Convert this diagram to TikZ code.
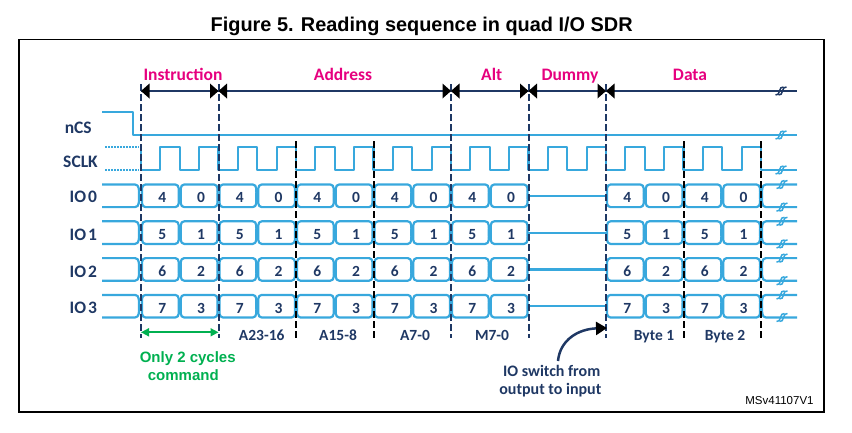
\documentclass[tikz,border=0pt]{standalone}
\usepackage{fontspec}
\setmainfont{Carlito}
\newfontfamily\arialfont{Liberation Sans}
\usetikzlibrary{arrows.meta}
\definecolor{sig}{RGB}{56,168,221}
\definecolor{navy}{RGB}{31,56,100}
\definecolor{mag}{RGB}{230,0,126}
\definecolor{grn}{RGB}{0,176,80}
\newcommand\brkmark[3]{%
  \draw[#3,line width=1.5pt] (#1-5.5,#2+4) .. controls (#1-0.5,#2+5.5) and (#1-2.5,#2-5.5) .. (#1+2.5,#2-4);
  \draw[#3,line width=1.5pt] (#1-2.5,#2+4) .. controls (#1+2.5,#2+5.5) and (#1+0.5,#2-5.5) .. (#1+5.5,#2-4);}
\begin{document}
\begin{tikzpicture}[x=1pt,y=-1pt,
  sigl/.style={sig,line width=2.2pt,line join=round},
  digit/.style={anchor=base,navy,font=\bfseries\fontsize{15.5}{17}\selectfont,inner sep=0pt},
  phase/.style={anchor=base,mag,font=\bfseries\fontsize{17.5}{20}\selectfont,inner sep=0pt},
  siglabel/.style={anchor=base,navy,font=\bfseries\fontsize{17.5}{20}\selectfont,inner sep=0pt},
  bytelabel/.style={anchor=base,navy,font=\bfseries\fontsize{15.5}{18}\selectfont,inner sep=0pt},
  navydash/.style={navy,line width=2pt,dash pattern=on 7pt off 3pt},
  blackdash/.style={black,line width=2pt,dash pattern=on 7pt off 3pt},
  tri/.style={fill=black}]
\useasboundingbox (0,0) rectangle (852,432);

% title and frame
\node[anchor=base,inner sep=0pt,font=\arialfont\bfseries\fontsize{19.9}{23}\selectfont] (title) at (421.7,31.5) {Figure 5. Reading sequence in quad I/O SDR};
\draw[line width=1.3pt] (19,39.5) rectangle (824,412);

% phase labels
\node[phase] (pInstr) at (183,80.5) {Instruction};
\node[phase] (pAddr) at (343,80.5) {Address};
\node[phase] (pAlt) at (491.7,80.5) {Alt};
\node[phase] (pDummy) at (570,80.5) {Dummy};
\node[phase] (pData) at (690,80.5) {Data};

% signal labels
\node[siglabel] (lnCS) at (78.3,133.3) {nCS};
\node[siglabel] (lSCLK) at (80.5,167.3) {SCLK};
\node[siglabel] (lIO0) at (83.3,202.7) {IO\hspace{2pt}0};
\node[siglabel] (lIO1) at (83.3,240) {IO\hspace{2pt}1};
\node[siglabel] (lIO2) at (83.3,277.3) {IO\hspace{2pt}2};
\node[siglabel] (lIO3) at (83.3,313.3) {IO\hspace{2pt}3};

% phase arrow line
\coordinate (arrL) at (141,91);
\coordinate (arrR) at (797,91);
\draw[navy,line width=2pt] (arrL) -- (arrR);
\brkmark{781}{91}{navy}

% nCS
\draw[sigl] (102,111.7) -- (133.3,111.7) -- (133.3,135) -- (797,135);
\brkmark{781}{135}{sig}

% SCLK
\draw[sig,line width=2pt,dash pattern=on 1.6pt off 1.4pt] (105,147.3) -- (139,147.3);
\draw[sig,line width=2pt,dash pattern=on 1.6pt off 1.4pt] (105,170) -- (139,170);
\draw[sigl] (141,147.3) -- (141,170)
  \foreach \k in {0,...,15}{ -- ({141+38.75*\k+19.375},170) -- ({141+38.75*\k+19.375},147.3) -- ({141+38.75*(\k+1)},147.3) -- ({141+38.75*(\k+1)},170) }
  -- (797,170);
\brkmark{781}{170}{sig}

% IO rows
\foreach \r/\a/\b in {0/4/0,1/5/1,2/6/2,3/7/3}{
  \pgfmathsetmacro\yt{184.5+36.8*\r}
  \pgfmathsetmacro\yb{\yt+22.6}
  \pgfmathsetmacro\ym{\yt+11.3}
  \draw[sigl] (102,\yt) -- (135,\yt) to[out=0,in=90] (139,\ym) to[out=-90,in=0] (135,\yb) -- (102,\yb);
  \foreach \s in {0,1,2,3,4,6,7}{
    \foreach \h/\v in {0/\a,1/\b}{
      \pgfmathsetmacro\xa{141+77.5*\s+38.75*\h}
      \pgfmathsetmacro\xb{\xa+38.75}
      \draw[sigl] (\xa+4.5,\yt) -- (\xb-4.5,\yt) to[out=0,in=90] (\xb-1,\ym) to[out=-90,in=0] (\xb-4.5,\yb) -- (\xa+4.5,\yb) to[out=180,in=-90] (\xa+1,\ym) to[out=90,in=180] cycle;
      \node[digit] (d\r-\s-\h) at ({\xa+21.4},{\ym+7}) {\v};
    }
  }
  \draw[sigl] (527.5,\ym) -- (607,\ym);
  \draw[sigl] (797,\yt) -- (766,\yt) to[out=180,in=90] (762,\ym) to[out=-90,in=180] (766,\yb) -- (797,\yb);
  \brkmark{782}{\yt}{sig}
  \brkmark{782}{\yb}{sig}
}

% dashed boundaries
\foreach \x in {141,218.5,451,528.5,606}{
  \draw[navydash] (\x,84) -- (\x,338);
}
\foreach \x in {296,373.5,683.5,761}{
  \draw[blackdash] (\x,141) -- (\x,338);
}

% triangles
\foreach \x in {141,218.5,451,528.5,606}{
  \fill[tri] (\x,91) -- (\x+8.5,83.5) -- (\x+8.5,98.5) -- cycle;
}
\foreach \x in {218.5,451,528.5,606}{
  \fill[tri] (\x,91) -- (\x-8.5,83.5) -- (\x-8.5,98.5) -- cycle;
}

% byte labels
\node[bytelabel] (bA23) at (261.7,340) {A23-16};
\node[bytelabel] (bA15) at (338,340) {A15-8};
\node[bytelabel] (bA7) at (415,340) {A7-0};
\node[bytelabel] (bM7) at (492,340) {M7-0};
\node[bytelabel] (bB1) at (654,340) {Byte 1};
\node[bytelabel] (bB2) at (725,340) {Byte 2};

% green cycles arrow
\coordinate (gL) at (141,332.3);
\coordinate (gR) at (218.5,332.3);
\draw[grn,line width=1.8pt,{Triangle[length=8pt,width=8pt]}-{Triangle[length=8pt,width=8pt]}] (gL) -- (gR);
\node[anchor=base,grn,inner sep=0pt,font=\arialfont\bfseries\fontsize{15}{18}\selectfont] (g1) at (187.7,362.7) {Only 2 cycles};
\node[anchor=base,grn,inner sep=0pt,font=\arialfont\bfseries\fontsize{15}{18}\selectfont] (g2) at (183.3,380.7) {command};

% IO switch note
\node[anchor=base,navy,inner sep=0pt,font=\bfseries\fontsize{16}{19}\selectfont] (sw1) at (551.7,376.5) {IO switch from};
\node[anchor=base,navy,inner sep=0pt,font=\bfseries\fontsize{16}{19}\selectfont] (sw2) at (550.3,394.5) {output to input};
\coordinate (swTip) at (607,328);
\draw[navy,line width=2.5pt,-{Triangle[length=11pt,width=13pt,black]}] (558,361) .. controls (560,340) and (578,329) .. (swTip);

% reference
\node[anchor=base,inner sep=0pt,font=\arialfont\fontsize{11.5}{13}\selectfont] (ref) at (779.5,404) {MSv41107V1};
\end{tikzpicture}
\end{document}
